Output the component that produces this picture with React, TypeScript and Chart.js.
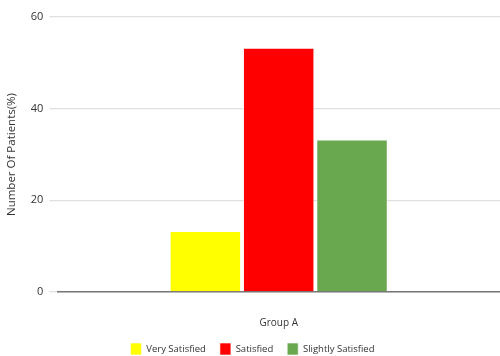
import React, { useEffect, useRef } from "react";
import { Chart, registerables } from "chart.js";

Chart.register(...registerables);

const categories = ["Group A"];
const seriesNames = ["Very Satisfied", "Satisfied", "Slightly Satisfied"];
const seriesColors = ["#ffff00", "#ff0000", "#6aa84f"];
const verySatisfied = [13.3];
const satisfied = [53.3];
const slightlySatisfied = [33.3];
const yTicks = [0, 20, 40, 60];

const FONT = "'Open Sans', 'Liberation Sans', sans-serif";
const LEGEND_HEIGHT = 27;
const X_TICK_PADDING = 17;

// Keeps the bottom legend compact while leaving wide gaps between its items.
const compactLegend = {
  id: "compactLegend",
  beforeInit(chart: any) {
    const legend = chart.legend;
    if (!legend) return;
    const originalFit = legend.fit;
    legend.fit = function fit() {
      originalFit.call(this);
      this.height = LEGEND_HEIGHT;
    };
  },
};

export default function App() {
  const canvasRef = useRef<HTMLCanvasElement | null>(null);

  useEffect(() => {
    document.body.style.margin = "0";
    const canvas = canvasRef.current;
    if (!canvas) return;
    const values = [verySatisfied, satisfied, slightlySatisfied];
    const chart = new Chart(canvas, {
      type: "bar",
      data: {
        labels: categories,
        datasets: seriesNames.map((name, i) => ({
          label: name,
          data: values[i],
          backgroundColor: seriesColors[i],
          borderColor: "rgba(255,255,255,0.6)",
          borderWidth: 1,
          barPercentage: 0.975,
          categoryPercentage: 0.497,
        })),
      },
      plugins: [compactLegend],
      options: {
        animation: false,
        responsive: false,
        maintainAspectRatio: false,
        layout: { padding: { top: 17, right: 0, left: 5, bottom: 0 } },
        plugins: {
          tooltip: { enabled: false },
          legend: {
            position: "bottom",
            labels: {
              boxWidth: 11,
              boxHeight: 12,
              padding: 14,
              color: "#333",
              font: { family: FONT, size: 9.5 },
            },
          },
        },
        scales: {
          x: {
            grid: { display: false },
            border: { display: true, color: "#777", width: 1.5 },
            ticks: {
              color: "#333",
              padding: X_TICK_PADDING,
              font: { family: FONT, size: 10 },
            },
            // padding is counted twice when the axis is sized; drop the extra half
            afterFit: (axis: any) => {
              axis.height -= X_TICK_PADDING;
            },
          },
          y: {
            min: 0,
            max: 60,
            afterBuildTicks: (axis: any) => {
              axis.ticks = yTicks.map((v) => ({ value: v }));
            },
            grid: { color: "#e0e0e0", lineWidth: 1.3 },
            border: { display: false },
            ticks: {
              color: "#333",
              padding: 6,
              font: { family: FONT, size: 11 },
            },
            title: {
              display: true,
              text: "Number Of Patients(%)",
              color: "#333",
              padding: { top: 0, bottom: 6 },
              font: { family: FONT, size: 11.5 },
            },
          },
        },
      },
    });
    return () => chart.destroy();
  }, []);

  return (
    <div style={{ width: 500, height: 356, background: "#fff" }}>
      <canvas ref={canvasRef} width={500} height={356} />
    </div>
  );
}
